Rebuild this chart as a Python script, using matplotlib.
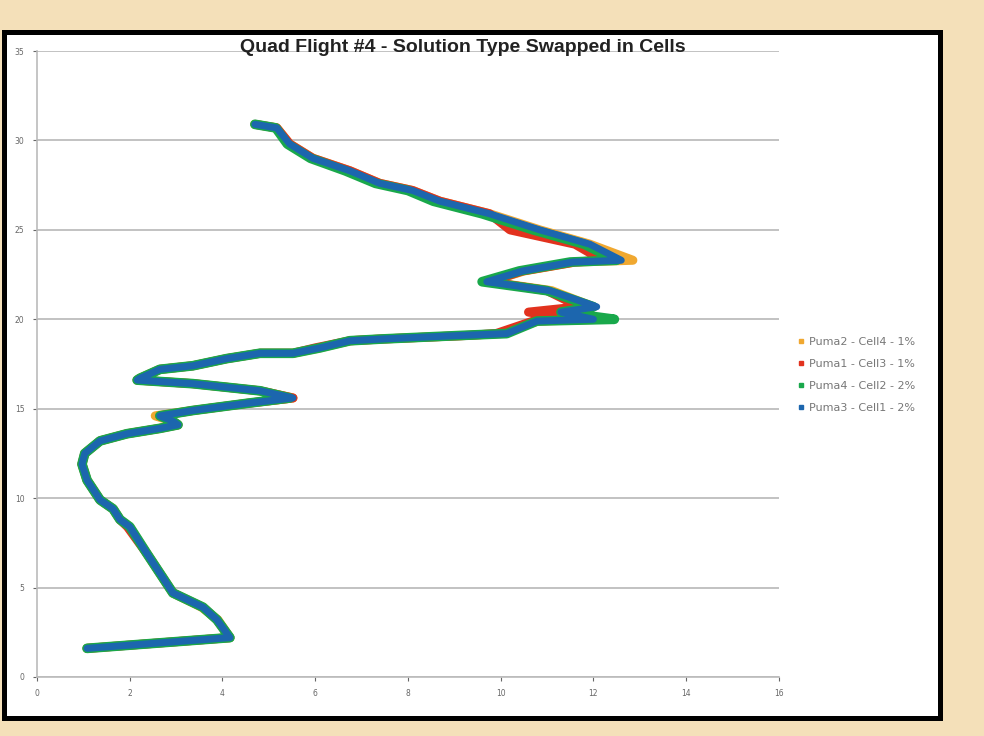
import numpy as np
import matplotlib
matplotlib.use('Agg')
import matplotlib.pyplot as plt
from matplotlib.patches import Rectangle
from matplotlib.lines import Line2D

# altitude (shared y values)
alt = [1.6, 2.2, 3.2, 3.9, 4.7, 5.8, 6.9, 8.4, 8.8, 9.4, 9.9, 11.0, 11.9, 12.5,
       13.2, 13.6, 13.9, 14.1, 14.3, 14.6, 14.9, 15.3, 15.6, 16.0, 16.4, 16.6,
       16.7, 17.2, 17.4, 17.8, 18.1, 18.1, 18.4, 18.8, 18.9, 19.1, 19.2, 19.9,
       20.0, 20.4, 20.7, 21.6, 22.1, 22.7, 23.2, 23.3, 24.2, 25.0, 25.9, 26.6,
       27.2, 27.6, 28.3, 29.0, 29.8, 30.7, 30.9]

# x per series
puma2_cell4 = [1.08, 4.16, 3.90, 3.55, 2.93, 2.65, 2.37, 2.00, 1.79, 1.64, 1.36,
               1.08, 0.97, 1.03, 1.36, 1.94, 2.65, 3.04, 2.93, 2.55, 3.36, 4.53,
               5.52, 4.81, 3.36, 2.16, 2.22, 2.65, 3.36, 4.09, 4.81, 5.52, 6.10,
               6.75, 7.46, 9.30, 10.00, 10.80, 12.20, 11.20, 12.00, 11.10, 9.75,
               10.50, 11.60, 12.85, 11.92, 10.84, 9.76, 8.69, 8.10, 7.39, 6.75,
               5.95, 5.45, 5.17, 4.70]
puma1_cell3 = [1.08, 4.16, 3.88, 3.58, 2.93, 2.65, 2.37, 1.95, 1.79, 1.64, 1.36,
               1.08, 0.97, 1.03, 1.36, 1.94, 2.65, 3.04, 2.93, 2.65, 3.36, 4.53,
               5.52, 4.81, 3.36, 2.16, 2.22, 2.65, 3.36, 4.09, 4.81, 5.52, 6.00,
               6.75, 7.46, 9.30, 9.90, 10.70, 11.90, 10.60, 11.70, 11.00, 9.75,
               10.47, 11.60, 12.20, 11.60, 10.20, 9.76, 8.69, 8.10, 7.39, 6.75,
               5.95, 5.45, 5.17, 4.70]
puma4_cell2 = [1.08, 4.16, 3.88, 3.58, 2.93, 2.65, 2.37, 2.00, 1.79, 1.64, 1.36,
               1.08, 0.97, 1.03, 1.36, 1.94, 2.65, 3.04, 2.93, 2.65, 3.36, 4.53,
               5.45, 4.81, 3.36, 2.16, 2.22, 2.65, 3.36, 4.09, 4.81, 5.52, 6.10,
               6.75, 7.46, 9.18, 10.13, 10.78, 12.45, 11.30, 12.00, 11.00, 9.60,
               10.40, 11.50, 12.50, 11.80, 10.70, 9.60, 8.55, 8.00, 7.30, 6.65,
               5.90, 5.40, 5.15, 4.70]
puma3_cell1 = [1.08, 4.16, 3.88, 3.58, 2.93, 2.65, 2.37, 2.00, 1.79, 1.64, 1.36,
               1.08, 0.97, 1.03, 1.36, 1.94, 2.65, 3.04, 2.93, 2.65, 3.36, 4.53,
               5.52, 4.81, 3.36, 2.16, 2.22, 2.65, 3.36, 4.09, 4.81, 5.52, 6.10,
               6.75, 7.46, 9.18, 10.13, 10.78, 12.00, 11.30, 12.07, 11.06, 9.70,
               10.47, 11.55, 12.60, 11.92, 10.84, 9.76, 8.69, 8.10, 7.39, 6.75,
               5.95, 5.45, 5.17, 4.70]

labels = ['Puma2 - Cell4 - 1%', 'Puma1 - Cell3 - 1%', 'Puma4 - Cell2 - 2%', 'Puma3 - Cell1 - 2%']
colors = ['#F0A830', '#E2321E', '#19A84B', '#1C66AE']
series = [puma2_cell4, puma1_cell3, puma4_cell2, puma3_cell1]
widths = [6.5, 6.5, 7, 5]

fig = plt.figure(figsize=(9.84, 7.36), dpi=100)
fig.patch.set_facecolor('#F4E0B9')
fig.patches.append(Rectangle((0.004, 0.0245), 0.951, 0.932, transform=fig.transFigure,
                             facecolor='white', edgecolor='black', lw=3.6, zorder=-5))

ax = fig.add_axes([0.0376, 0.0802, 0.754, 0.8505])
ax.set_facecolor('white')
for xs, c, lw in zip(series, colors, widths):
    ax.plot(xs, alt, color=c, lw=lw, solid_capstyle='round', solid_joinstyle='round')

ax.set_xlim(0, 16)
ax.set_ylim(0, 35)
ax.set_xticks(range(0, 17, 2))
ax.set_yticks(range(0, 36, 5))
ax.yaxis.grid(True, color='#BDBDBD', lw=1.3)
ax.set_axisbelow(True)
for s in ['top', 'right']:
    ax.spines[s].set_visible(False)
for s in ['left', 'bottom']:
    ax.spines[s].set_color('#BBBBBB')
    ax.spines[s].set_linewidth(1.2)
ax.tick_params(labelsize=5.5, colors='#666666', length=3, width=0.8, pad=6)

fig.text(463/984, 1 - 47/736, 'Quad Flight #4 - Solution Type Swapped in Cells',
         ha='center', va='center', fontsize=14, fontweight='bold',
         family='Liberation Sans', color='#222222')

handles = [Line2D([], [], color=c, marker='s', markersize=2.5, lw=0) for c in colors]
fig.legend(handles, labels, loc='center left', bbox_to_anchor=(0.8, 1 - 375/736),
           frameon=False, fontsize=8, labelcolor='#777777', handlelength=0.6,
           handletextpad=0.5, labelspacing=1.1)

fig.savefig('out.png', dpi=100, facecolor=fig.get_facecolor())
